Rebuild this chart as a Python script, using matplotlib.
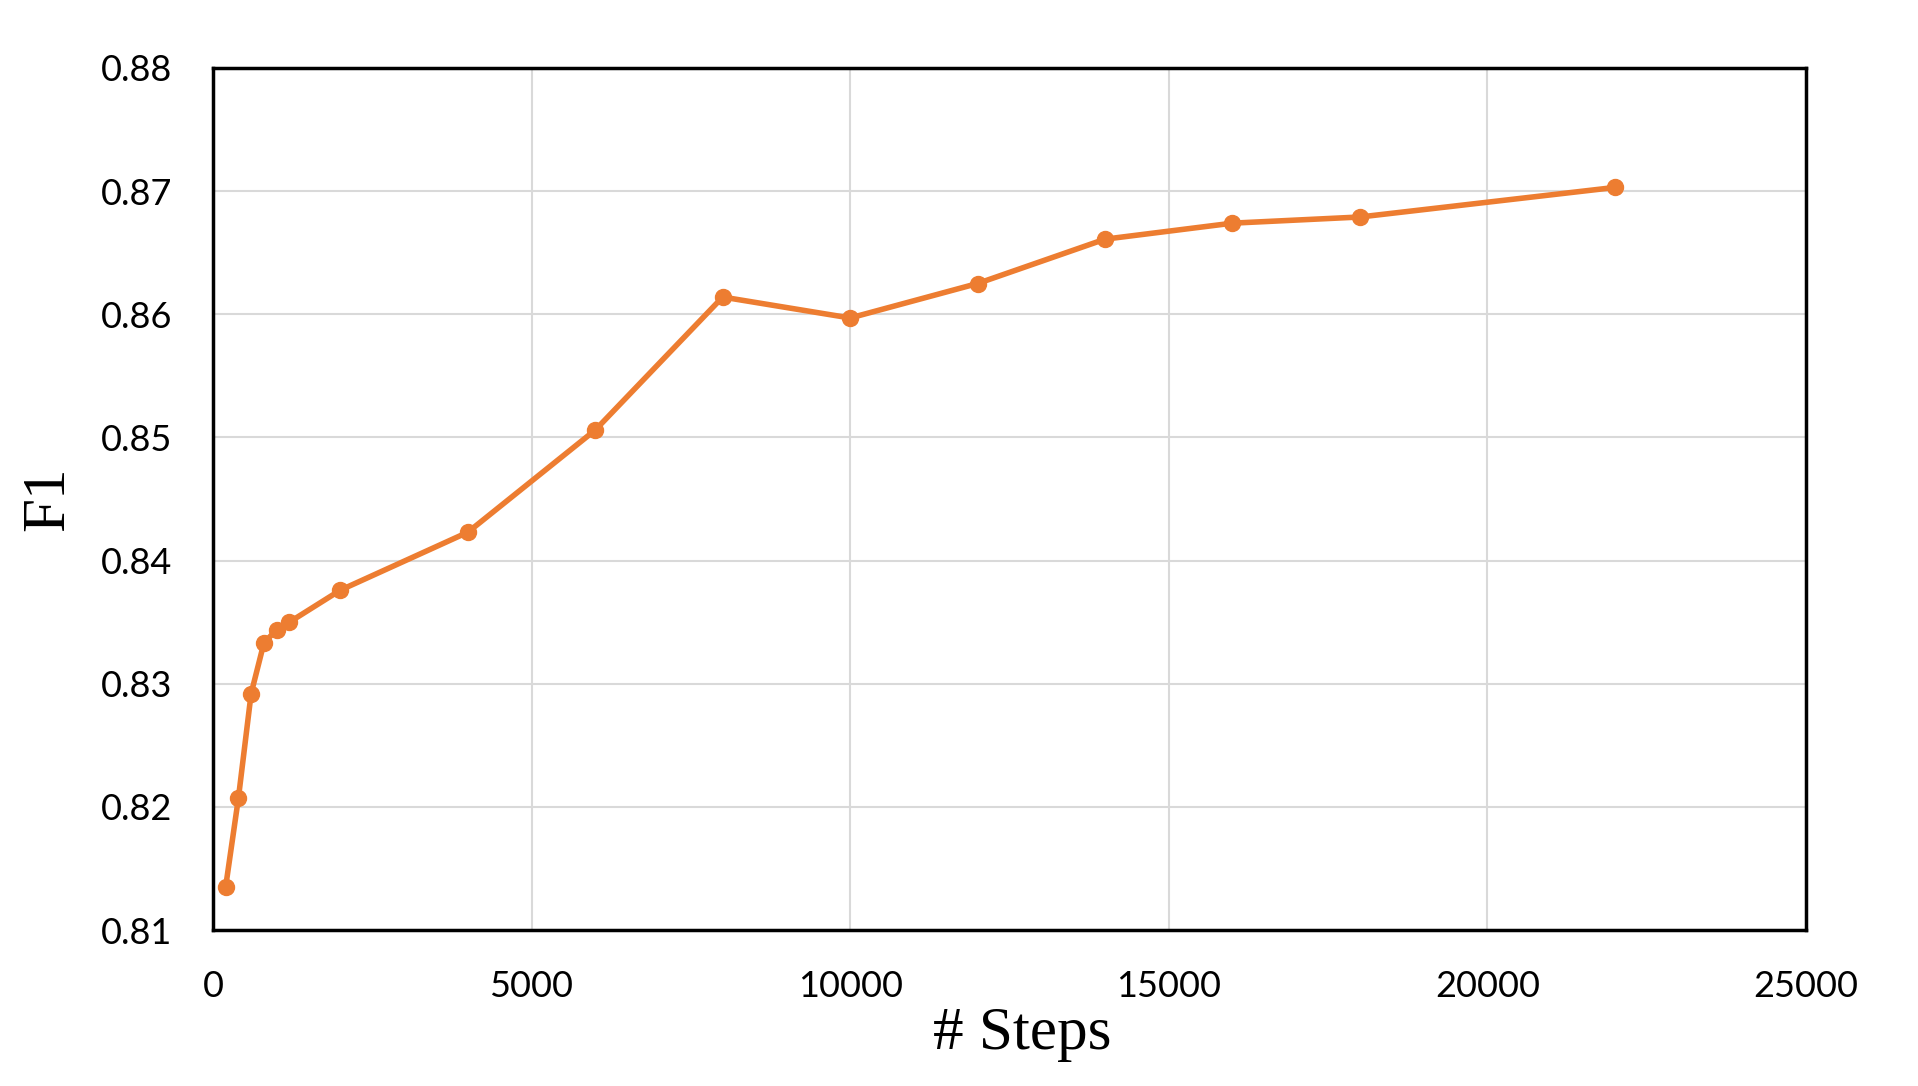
from matplotlib import pyplot as plt

# training steps vs F1
steps = [200, 400, 600, 800, 1000, 1200, 2000, 4000, 6000, 8000,
         10000, 12000, 14000, 16000, 18000, 22000]
f1 = [0.8135, 0.8207, 0.8292, 0.8333, 0.8344, 0.8350, 0.8376, 0.8423,
      0.8506, 0.8614, 0.8597, 0.8625, 0.8661, 0.8674, 0.8679, 0.8703]

x_ticks = [0, 5000, 10000, 15000, 20000, 25000]
y_ticks = [0.81, 0.82, 0.83, 0.84, 0.85, 0.86, 0.87, 0.88]

fig = plt.figure(figsize=(19.18, 10.86), dpi=100)
ax = fig.add_axes([0.111, 0.1436, 0.8306, 0.7938])

ax.plot(steps, f1, color='#ED7D31', linewidth=4, marker='o',
        markersize=11.5, zorder=3)

ax.set_xlim(0, 25000)
ax.set_ylim(0.81, 0.88)
ax.set_xticks(x_ticks)
ax.set_yticks(y_ticks)
ax.set_xticklabels([str(t) for t in x_ticks])
ax.set_yticklabels(['{:.2f}'.format(t) for t in y_ticks])
ax.tick_params(length=0, labelsize=26, pad=29)
for lab in ax.get_xticklabels() + ax.get_yticklabels():
    lab.set_fontfamily('Lato')

ax.grid(True, color='#d9d9d9', linewidth=1.5)
ax.set_axisbelow(True)
for sp in ax.spines.values():
    sp.set_linewidth(2.5)
    sp.set_color('black')

ax.set_xlabel('# Steps', fontsize=44, family='Liberation Serif', labelpad=2)
ax.xaxis.label.set_x(0.508)
ax.set_ylabel('F1', fontsize=44, family='Liberation Serif', labelpad=18)

plt.savefig('out.png')
